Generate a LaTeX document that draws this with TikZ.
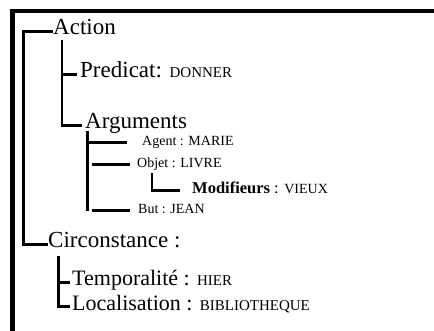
\documentclass[tikz,border=0pt]{standalone}
\usepackage{fontspec}
\setmainfont{Liberation Serif}
\newcommand{\petit}[1]{{\fontsize{15}{17}\selectfont #1}}

\begin{document}
\begin{tikzpicture}[x=1pt, y=-1pt,
    tree/.style={line width=2.3pt},
    label/.style={anchor=base west, inner sep=0pt, text height=0.68em, text depth=0pt},
    big/.style={label, font=\fontsize{23}{26}\selectfont},
    mid/.style={label, font=\fontsize{22}{25}\selectfont},
    small/.style={label, font=\fontsize{14}{16}\selectfont}]
    \useasboundingbox (0,0) rectangle (434,331);

    % Frame (top and left only)
    \fill (9.5,9) rectangle (14.5,331);
    \fill (9.5,9) rectangle (434,13.5);

    % Action
    \node[big] (action) at (53,35) {Action};
    \node[big] (pred) at (80,78) {Predicat: \petit{DONNER}};
    \node[big] (args) at (85,129) {Arguments};

    % Arguments
    \node[small] (agent) at (142,146) {Agent : MARIE};
    \node[small] (objet) at (137,168) {Objet : LIVRE};
    \node[small, font=\fontsize{16.5}{19}\selectfont] (modif) at (192,194)
        {\textbf{Modifieurs} : {\fontsize{14}{16}\selectfont VIEUX}};
    \node[small] (but) at (138,214) {But : JEAN};

    % Circonstance
    \node[big] (circ) at (48,248) {Circonstance :};
    \node[mid] (temp) at (72,286) {Temporalité : \petit{HIER}};
    \node[mid] (loc) at (72,310) {Localisation : \petit{BIBLIOTHEQUE}};

    % Forks
    \coordinate (actfork) at (62,40);
    \coordinate (argfork) at (87.5,131);
    \coordinate (objfork) at (152,173);
    \coordinate (circfork) at (58.5,256);

    % Main branch
    \draw[tree] (action.west) -- ++(-29.5,0) |- (circ.west);

    % Action branches
    \draw[tree, shorten >=3pt] (actfork) |- (pred.west);
    \draw[tree, shorten >=3pt] (actfork) |- (args.west);

    % Arguments branches
    \draw[tree] (argfork) -- (argfork |- but.west);
    \draw[tree, shorten >=15pt] (argfork) |- (agent.west);
    \draw[tree, shorten >=7pt] ([xshift=4.5pt]argfork |- objet.west) -- (objet.west);
    \draw[tree, shorten >=8pt] ([xshift=4.5pt]argfork |- but.west) -- (but.west);

    % Modifieurs
    \draw[tree, shorten >=12pt] (objfork) |- (modif.west);

    % Circonstance branches
    \draw[tree, shorten >=2pt] (circfork) |- (temp.west);
    \draw[tree, shorten >=2pt] (circfork) |- (loc.west);
\end{tikzpicture}
\end{document}
